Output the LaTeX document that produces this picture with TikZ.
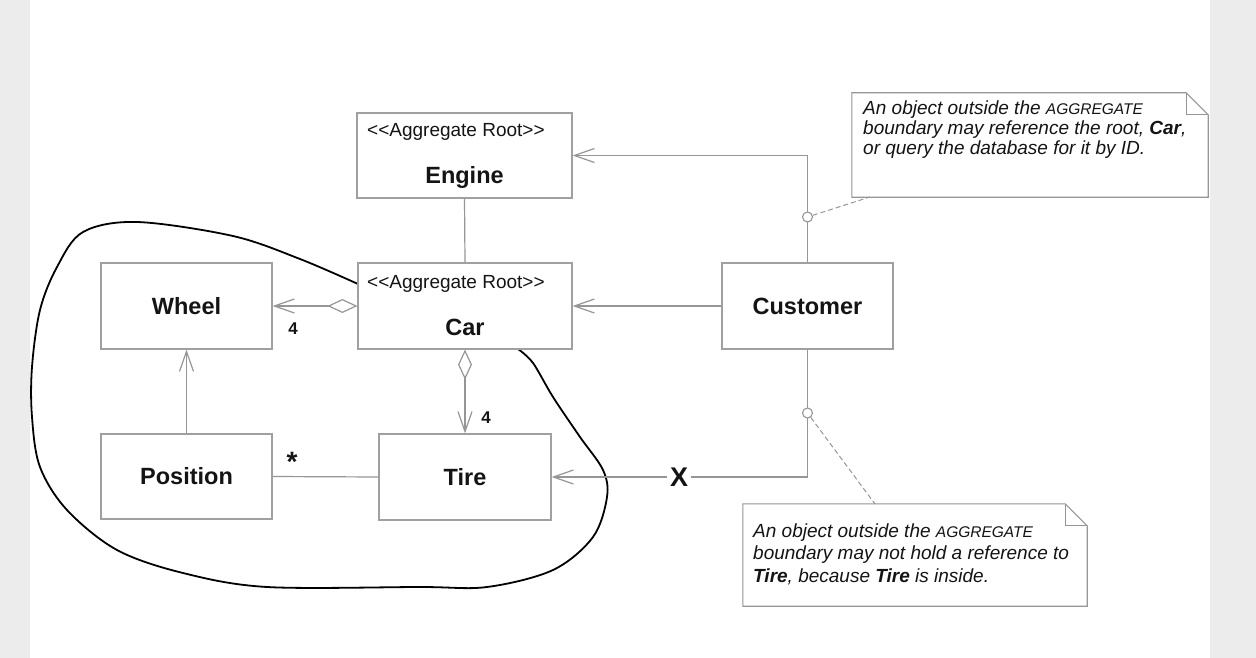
\documentclass[tikz,border=0pt]{standalone}
\usepackage{fontspec}
\setmainfont{Liberation Sans}
\usetikzlibrary{arrows.meta}
\definecolor{bggray}{RGB}{236,236,236}
\definecolor{lgray}{RGB}{150,150,150}
\definecolor{bgray}{RGB}{160,160,160}
\definecolor{ink}{RGB}{20,20,20}
\begin{document}
\begin{tikzpicture}[x=1pt,y=-1pt,
  box/.style={draw=bgray, line width=1.2pt, fill=white, inner sep=0pt},
  cname/.style={font=\fontsize{23.5}{28}\selectfont\bfseries, text=ink, inner sep=0pt},
  stereo/.style={font=\fontsize{19}{22}\selectfont, text=ink, inner sep=0pt, anchor=west},
  conn/.style={draw=lgray, line width=1.2pt},
  barb/.style={-{Straight Barb[length=20pt,width=14pt]}},
  diabarb/.style={{Diamond[open,length=30pt,width=14pt]}-{Straight Barb[length=20pt,width=14pt]}},
  circ/.style={circle, draw=lgray, fill=white, line width=1.1pt, minimum size=10pt, inner sep=0pt},
  mult/.style={font=\fontsize{17}{20}\selectfont\bfseries, text=ink, inner sep=0pt},
  notebox/.style={draw=lgray, line width=1.1pt, fill=white, line join=miter},
  notetext/.style={inner sep=0pt, anchor=north west, align=left, text=ink},
  dashconn/.style={draw=lgray, line width=1pt, dash pattern=on 5pt off 3pt}
]
\useasboundingbox (0,0) rectangle (1256,658);
\fill[bggray] (0,0) rectangle (1256,658);
\fill[white] (30,0) rectangle (1210,658);

% aggregate boundary
\draw[line width=1.8pt, black] plot[smooth, tension=0.55] coordinates {
 (358,284) (300,259) (233,236) (137,222) (83,232) (57,267) (40,310) (32,367) (32,417)
 (40,467) (67,510) (117,550) (183,573) (267,587) (420,587) (487,587) (553,570)
 (593,537) (607,497) (603,470) (580,437) (553,397) (533,363) (518,349)};

% classes
\node[box, minimum width=215pt, minimum height=85pt] (engine) at (464.5,155.5) {};
\node[stereo] (enginest) at (367,132) {<\kern0pt<Aggregate Root>\kern0pt>};
\node[cname] (enginename) at (464.5,177) {Engine};

\node[box, minimum width=214pt, minimum height=86pt] (car) at (465,306) {};
\node[stereo] (carst) at (367,284) {<\kern0pt<Aggregate Root>\kern0pt>};
\node[cname] (carname) at (465,327) {Car};

\node[box, cname, minimum width=171pt, minimum height=86pt] (wheel) at (186.5,306) {Wheel};
\node[box, cname, minimum width=171pt, minimum height=85pt] (position) at (186.5,476.5) {Position};
\node[box, cname, minimum width=172pt, minimum height=86pt] (tire) at (465,477) {Tire};
\node[box, cname, minimum width=171pt, minimum height=86pt] (customer) at (807.5,306) {Customer};

% connectors
\draw[conn] (engine.south) -- (car.north);
\draw[conn, barb] (customer.north) |- (engine.east);
\draw[conn, barb] (customer.west) -- (car.east);
\node[font=\fontsize{27}{30}\selectfont\bfseries, text=ink, inner xsep=3pt, inner ysep=0pt] (xlab) at (679,477) {X};
\draw[conn] (customer.south) |- (xlab.east);
\draw[conn, barb] (xlab.west) -- (tire.east);
\draw[conn, diabarb] (car.west) -- (wheel.east);
\draw[conn, diabarb] (car.south) -- (tire.north);
\draw[conn, barb] (position.north) -- (wheel.south);
\draw[conn] (position.east) -- (tire.west);

\node[mult] (m1) at (293,329) {4};
\node[mult] (m2) at (486,418) {4};
\node[font=\fontsize{28}{30}\selectfont\bfseries, text=ink, inner sep=0pt] (m3) at (292,462) {*};

% notes
\node[minimum width=356pt, minimum height=104pt, inner sep=0pt] (n1) at (1030,145) {};
\draw[notebox] (n1.north west) -- ([xshift=-22pt]n1.north east) -- ([yshift=-22pt]n1.north east) -- (n1.south east) -- (n1.south west) -- cycle;
\draw[notebox, fill=none] ([xshift=-22pt]n1.north east) -- ++(0,22) -- ([yshift=-22pt]n1.north east);
\node[notetext, font=\fontsize{19}{20}\selectfont\itshape] (n1t) at (863,100.5)
 {An object outside the {\fontsize{15.5}{20}\selectfont AGGREGATE}\\
  boundary may reference the root, \textbf{Car},\\
  or query the database for it by ID.};

\node[minimum width=344pt, minimum height=102pt, inner sep=0pt] (n2) at (915,555) {};
\draw[notebox] (n2.north west) -- ([xshift=-22pt]n2.north east) -- ([yshift=-22pt]n2.north east) -- (n2.south east) -- (n2.south west) -- cycle;
\draw[notebox, fill=none] ([xshift=-22pt]n2.north east) -- ++(0,22) -- ([yshift=-22pt]n2.north east);
\node[notetext, font=\fontsize{19}{22.5}\selectfont\itshape] (n2t) at (753,523.5)
 {An object outside the {\fontsize{15.5}{20}\selectfont AGGREGATE}\\
  boundary may not hold a reference to\\
  \textbf{Tire}, because \textbf{Tire} is inside.};

% anchors on notes and circles
\coordinate (n1a) at (870,197);
\coordinate (n2a) at (875,504);
\node[circ] (c1) at (807.5,217) {};
\node[circ] (c2) at (807.5,413) {};
\draw[dashconn] (c1) -- (n1a);
\draw[dashconn] (c2) -- (n2a);
\end{tikzpicture}
\end{document}
